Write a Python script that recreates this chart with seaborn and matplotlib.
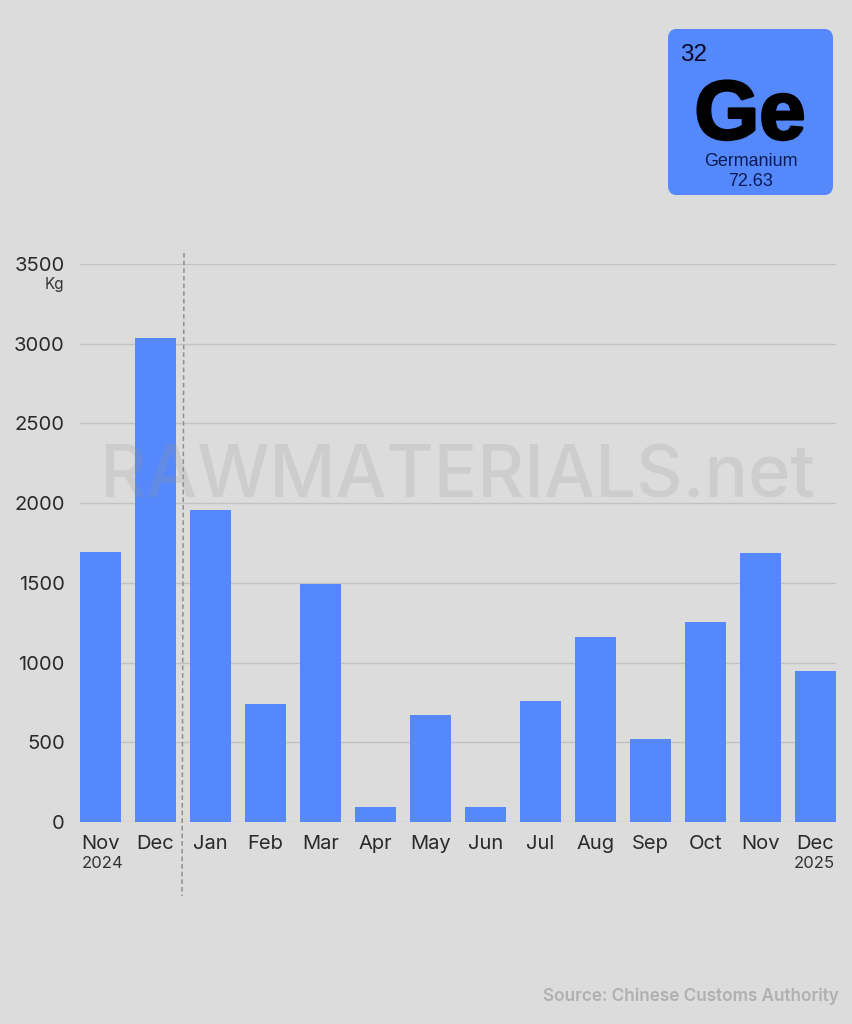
import matplotlib
matplotlib.use("Agg")
import matplotlib.pyplot as plt
import matplotlib.patheffects as pe
from matplotlib.patches import FancyBboxPatch
from matplotlib.lines import Line2D
import seaborn as sns
import pandas as pd

months = ["Nov","Dec","Jan","Feb","Mar","Apr","May","Jun","Jul","Aug","Sep","Oct","Nov","Dec"]
values = [1695,3035,1955,738,1490,97,672,95,760,1162,520,1252,1685,950]
yticks = [0,500,1000,1500,2000,2500,3000,3500]
W,H = 853,1024
BG="#dcdcdc"; BLUE="#5588fa"
sns.set_theme(style="white")
plt.rcParams['font.family']=['Inter','DejaVu Sans']
fig=plt.figure(figsize=(W/100,H/100),dpi=100,facecolor=BG)
ax=fig.add_axes([80/W,1-822/H,(836-80)/W,(822-264)/H],facecolor=BG)
df=pd.DataFrame({"pos":[f"{i}" for i in range(len(months))],"v":values})
sns.barplot(data=df,x="pos",y="v",color=BLUE,saturation=1,width=0.742,ax=ax,zorder=3,linewidth=0,edgecolor=BLUE)
ax.set_xlim(-0.375,13.371); ax.set_ylim(0,3500)
ax.set_xlabel("");ax.set_ylabel("")
ax.set_yticks(yticks); ax.set_xticks(range(14)); ax.set_xticklabels(months)
ax.tick_params(axis='x',length=0,labelsize=14.5,colors="#2a2a2a",pad=9.5)
ax.tick_params(axis='y',length=0,labelsize=14.5,colors="#2a2a2a",pad=11)
ax.grid(axis='y',color="#c2c2c2",lw=1,zorder=0)
ax.set_axisbelow(True)
sns.despine(ax=ax,left=True,bottom=True,top=True,right=True)
def T(x,y,s,**k): return fig.text(x/W,1-y/H,s,**k)
T(64,284,"Kg",fontsize=11,ha='right',va='center',color="#333333")
T(103,864,"2024",fontsize=12,ha='center',va='center',color="#333333")
T(814,864,"2025",fontsize=12,ha='center',va='center',color="#333333")
T(457,478,"RAWMATERIALS.net",fontsize=52,ha='center',va='center',color="#9a9a9a",fontweight='medium',alpha=0.22,zorder=2)
T(839,996,"Source: Chinese Customs Authority",fontsize=12.3,ha='right',va='center',color="#b0b0b0",fontweight='semibold')
fig.add_artist(Line2D([184/W,182/W],[1-253/H,1-896/H],color="#8f8f8f",lw=1.1,ls=(0,(3,2))))
fig.add_artist(FancyBboxPatch((672/W,1-191/H),157/W,158/H,boxstyle="round,pad=0,rounding_size=0.005",transform=fig.transFigure,fc=BLUE,ec=BLUE,lw=8/1.39,joinstyle='round'))
arial=['Liberation Sans','DejaVu Sans']
T(694,55,"32",fontsize=17.5,ha='center',va='center',color="#0a0a2a",family=arial)
ge=T(750,117,"Ge",fontsize=60,ha='center',va='center',color="#000000",fontweight='bold',family=arial)
ge.set_path_effects([pe.withStroke(linewidth=2,foreground="#000000")])
T(751,161,"Germanium",fontsize=12.9,ha='center',va='center',color="#0a1a55",family=arial)
T(751,182,"72.63",fontsize=13,ha='center',va='center',color="#0a1a55",family=arial)
fig.savefig("out.png",dpi=100,facecolor=BG)
